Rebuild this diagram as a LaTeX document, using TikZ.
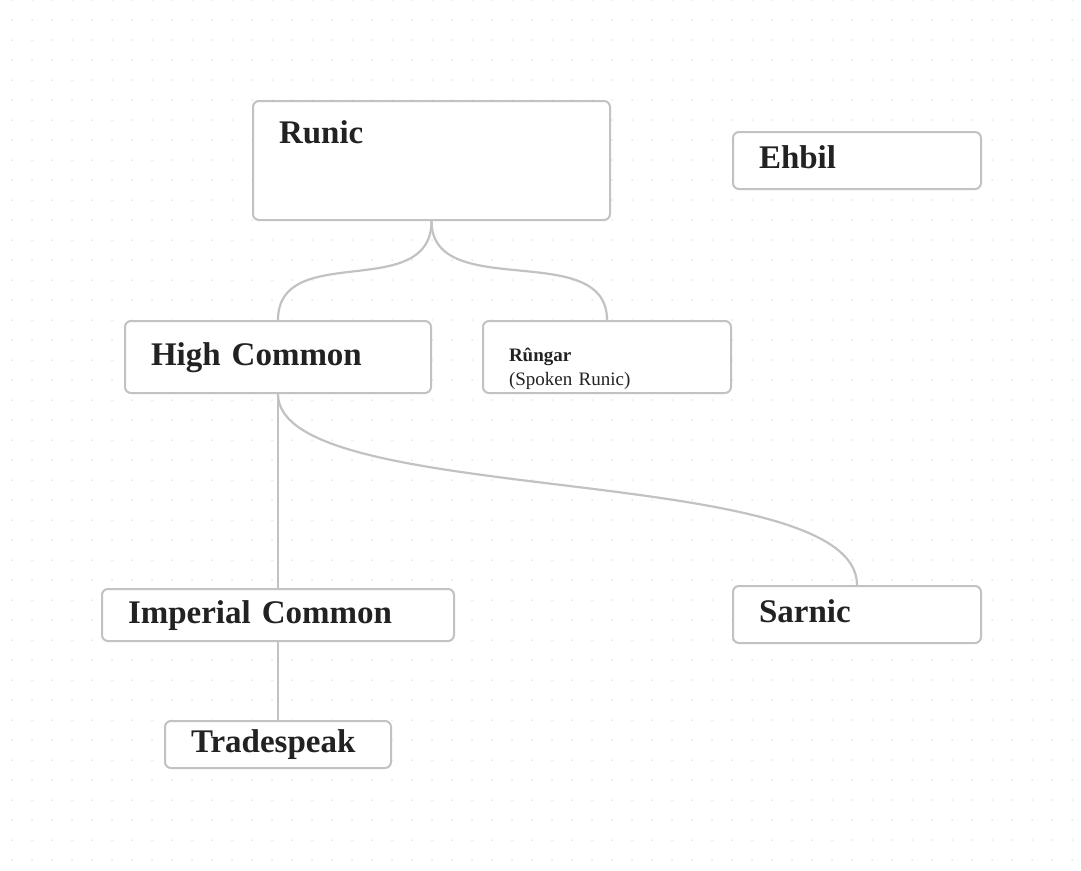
\documentclass[tikz,border=0pt]{standalone}
\usepackage{fontspec}
\setmainfont{Liberation Serif}
\usepackage{tikz}

\definecolor{linegray}{HTML}{C2C2C2}
\definecolor{dotgray}{HTML}{D2D2D2}
\definecolor{inkgray}{HTML}{222222}

\begin{document}
\begin{tikzpicture}[x=1pt, y=-1pt,
  lang/.style={draw=linegray, line width=2pt, rounded corners=6pt, fill=white, text=inkgray,
    anchor=west, align=left, inner xsep=26pt, inner ysep=0pt, text height=23pt, text depth=7pt,
    font=\fontsize{33}{40}\selectfont\bfseries},
  link/.style={draw=linegray, line width=2.2pt}]
\useasboundingbox (0,0) rectangle (1081,870);

% dotted background
\foreach \i in {0,...,53}
  \foreach \j in {0,...,43}
    \fill[dotgray] (12+20*\i,20*\j) circle (0.75pt);

\node[lang, anchor=base west, text width=305pt, text depth=58pt, inner ysep=19pt] (runic) at (252,143) {Runic};
\node[lang, text width=196pt, minimum height=57pt] (ehbil) at (732,160.5) {Ehbil};
\node[lang, text width=254pt, minimum height=72pt] (highcom) at (124,357) {High Common};
\node[lang, text width=196pt, minimum height=72pt, text height=14pt, text depth=5pt,
  font=\fontsize{19}{24}\selectfont] (rungar) at (482,357) {\textbf{Rûngar}\\(Spoken Runic)};
\node[lang, text width=300pt, minimum height=52pt] (imperial) at (101,615) {Imperial Common};
\node[lang, text width=196pt, minimum height=57pt] (sarnic) at (732,614.5) {Sarnic};
\node[lang, text width=174pt, minimum height=47pt] (trade) at (164,744.5) {Tradespeak};

\draw[link] (runic.south) .. controls +(0,82) and +(0,-80) .. (highcom.north);
\draw[link] (runic.south) .. controls +(0,82) and +(0,-82) .. (rungar.north);
\draw[link] (highcom.south) -- (imperial.north);
\draw[link] (highcom.south) .. controls +(0,115) and +(0,-125) .. (sarnic.north);
\draw[link] (imperial.south) -- (trade.north);
\end{tikzpicture}
\end{document}
